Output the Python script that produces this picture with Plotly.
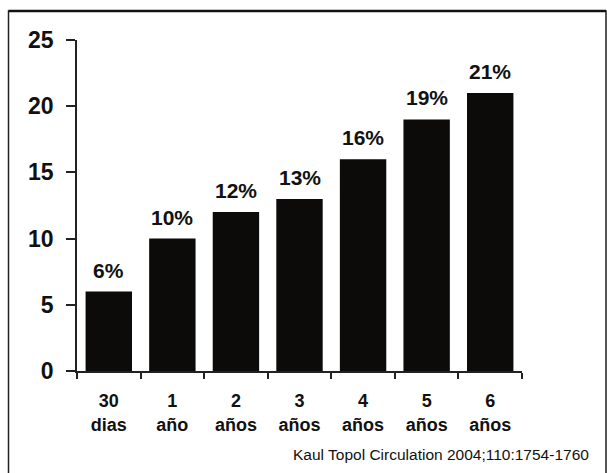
import plotly.graph_objects as go

categories = ["30<br>dias", "1<br>año", "2<br>años", "3<br>años", "4<br>años", "5<br>años", "6<br>años"]
values = [6, 10, 12, 13, 16, 19, 21]
labels = ["6%", "10%", "12%", "13%", "16%", "19%", "21%"]
y_ticks = [0, 5, 10, 15, 20, 25]

FONT = "Liberation Sans, Arial, sans-serif"
BOLD = "Liberation Sans, Arial, sans-serif"

L, R, T, B = 77, 522, 40, 371
W, H = 607, 473
pw, ph = R - L, B - T

fig = go.Figure()
fig.add_trace(go.Bar(
    x=categories, y=values,
    marker=dict(color="#0d0b0a", line=dict(width=0)),
    width=0.73,
    hoverinfo="skip",
))

for c, v, t in zip(categories, values, labels):
    fig.add_annotation(x=c, y=v, text="<b>%s</b>" % t, showarrow=False,
                       yanchor="bottom", yshift=8,
                       font=dict(family=BOLD, size=21, color="#111"))

fig.add_annotation(xref="paper", yref="paper", x=(591 - L) / pw, y=(B - 454) / ph,
                   xanchor="right", yanchor="middle", showarrow=False,
                   text="Kaul Topol Circulation 2004;110:1754-1760",
                   font=dict(family=FONT, size=15.5, color="#111"))

# outer frame
fig.add_shape(type="rect", xref="paper", yref="paper",
              x0=(8.5 - L) / pw, x1=(606 - L) / pw,
              y0=(B - 480) / ph, y1=(B - 11) / ph,
              line=dict(color="#222", width=1.5))
fig.add_shape(type="line", xref="paper", yref="paper",
              x0=(8.5 - L) / pw, x1=(606 - L) / pw,
              y0=(B - 11) / ph, y1=(B - 11) / ph,
              line=dict(color="#111", width=2.5))

fig.update_layout(
    width=W, height=H,
    margin=dict(l=L, r=W - R, t=T, b=H - B),
    paper_bgcolor="white", plot_bgcolor="white",
    showlegend=False,
    font=dict(family=FONT, color="#111"),
    xaxis=dict(
        type="category", showline=True, linecolor="#222", linewidth=1.5,
        ticks="outside", tickson="boundaries", ticklen=6, tickcolor="#222",
        tickwidth=1.5, showgrid=False,
        tickfont=dict(family=BOLD, size=18, color="#111"),
        tickvals=categories,
        ticktext=["<b>%s</b>" % c for c in categories],
        ticklabelstandoff=13,
    ),
    yaxis=dict(
        range=[0, 25], showline=True, linecolor="#222", linewidth=1.5,
        ticks="outside", ticklen=9, tickcolor="#222", tickwidth=1.5,
        showgrid=False, zeroline=False,
        tickvals=y_ticks, ticktext=["<b>%d</b>" % v for v in y_ticks],
        tickfont=dict(family=BOLD, size=23, color="#111"),
        ticklabelstandoff=8,
    ),
)

fig.write_html("out.html")
